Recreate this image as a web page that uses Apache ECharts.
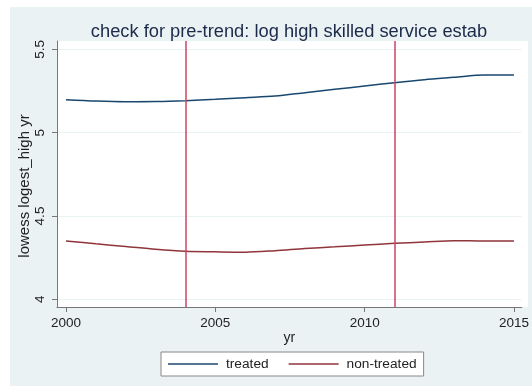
<!DOCTYPE html>
<html>
<head>
<meta charset="utf-8">
<script src="https://cdn.jsdelivr.net/npm/echarts@6/dist/echarts.min.js"></script>
<style>
  html, body { margin: 0; padding: 0; background: #ffffff; }
  #chart { width: 532px; height: 386px; }
</style>
</head>
<body>
<div id="chart"></div>
<script>
// Lowess-smoothed log of high-skilled service establishments by year
const years = [2000, 2001, 2002, 2003, 2004, 2005, 2006, 2007, 2008, 2009, 2010, 2011, 2012, 2013, 2014, 2015];
const treated = [5.198, 5.190, 5.186, 5.187, 5.192, 5.200, 5.210, 5.220, 5.240, 5.260, 5.280, 5.300, 5.318, 5.332, 5.346, 5.346];
const nonTreated = [4.350, 4.333, 4.317, 4.300, 4.288, 4.285, 4.283, 4.292, 4.305, 4.315, 4.326, 4.336, 4.344, 4.352, 4.350, 4.350];
const eventYears = [2004, 2011];
const xTicks = [2000, 2005, 2010, 2015];
const yTicks = [4, 4.5, 5, 5.5];

const FONT = 'Liberation Sans';
const NAVY = '#1a476f';
const MAROON = '#90353b';
const BG = '#eaf2f3';

const chart = echarts.init(document.getElementById('chart'), null, { renderer: 'canvas' });

chart.setOption({
  backgroundColor: '#ffffff',
  animation: false,
  graphic: [
    { type: 'rect', z: -10, shape: { x: 10, y: 7, width: 522, height: 379 }, style: { fill: BG } },
    { type: 'rect', z: -9, shape: { x: 57, y: 41, width: 471, height: 266 }, style: { fill: '#ffffff' } }
  ],
  title: {
    text: 'check for pre-trend: log high skilled service estab',
    left: 284, top: 18, textAlign: 'center',
    textStyle: { fontFamily: FONT, fontSize: 18.3, fontWeight: 'normal', color: '#1c2a4a' }
  },
  grid: { left: 57, top: 41, right: 4, bottom: 79, containLabel: false },
  xAxis: {
    type: 'value', min: 1999.7, max: 2015.26,
    name: 'yr', nameLocation: 'middle', nameGap: 24, nameMoveOverlap: false,
    nameTextStyle: { fontFamily: FONT, fontSize: 14, color: '#222' },
    axisLine: { show: true, lineStyle: { color: '#777', width: 1 } },
    axisTick: { show: true, length: 5, inside: false, customValues: xTicks, lineStyle: { color: '#777' } },
    axisLabel: { customValues: xTicks, fontFamily: FONT, fontSize: 13.5, color: '#222', margin: 9,
      formatter: v => String(v) },
    splitLine: { show: false }
  },
  yAxis: {
    type: 'value', min: 3.954, max: 5.55,
    name: 'lowess logest_high yr', nameLocation: 'middle', nameGap: 25, nameRotate: 90, nameMoveOverlap: false,
    nameTextStyle: { fontFamily: FONT, fontSize: 15, color: '#222', padding: [0, 24, 0, 0] },
    axisLine: { show: true, lineStyle: { color: '#777', width: 1 } },
    axisTick: { show: true, length: 5, customValues: yTicks, lineStyle: { color: '#777' } },
    axisLabel: { customValues: yTicks, rotate: 90, fontFamily: FONT, fontSize: 13.5, color: '#222', margin: 10,
      formatter: v => String(v) },
    splitLine: { show: true, customValues: yTicks, lineStyle: { color: BG, width: 1 } }
  },
  legend: {
    left: 161, top: 352,
    padding: [5, 7, 5, 7], itemGap: 20,
    backgroundColor: '#ffffff', borderColor: '#888', borderWidth: 1, borderRadius: 0,
    icon: 'rect', itemWidth: 50, itemHeight: 1.5,
    textStyle: { fontFamily: FONT, fontSize: 13.7, color: '#222', padding: [0, 0, 0, 3] },
    data: ['treated', 'non-treated']
  },
  series: [
    {
      name: 'treated', type: 'line', symbol: 'none', smooth: 0.3,
      data: years.map((y, i) => [y, treated[i]]),
      lineStyle: { color: NAVY, width: 1.5 }, itemStyle: { color: NAVY },
      markLine: {
        silent: true, symbol: 'none', label: { show: false },
        lineStyle: { color: '#cc4466', width: 1.5, type: 'solid' },
        data: eventYears.map(v => ({ xAxis: v }))
      }
    },
    {
      name: 'non-treated', type: 'line', symbol: 'none', smooth: 0.3,
      data: years.map((y, i) => [y, nonTreated[i]]),
      lineStyle: { color: MAROON, width: 1.5 }, itemStyle: { color: MAROON }
    }
  ]
});
</script>
</body>
</html>
